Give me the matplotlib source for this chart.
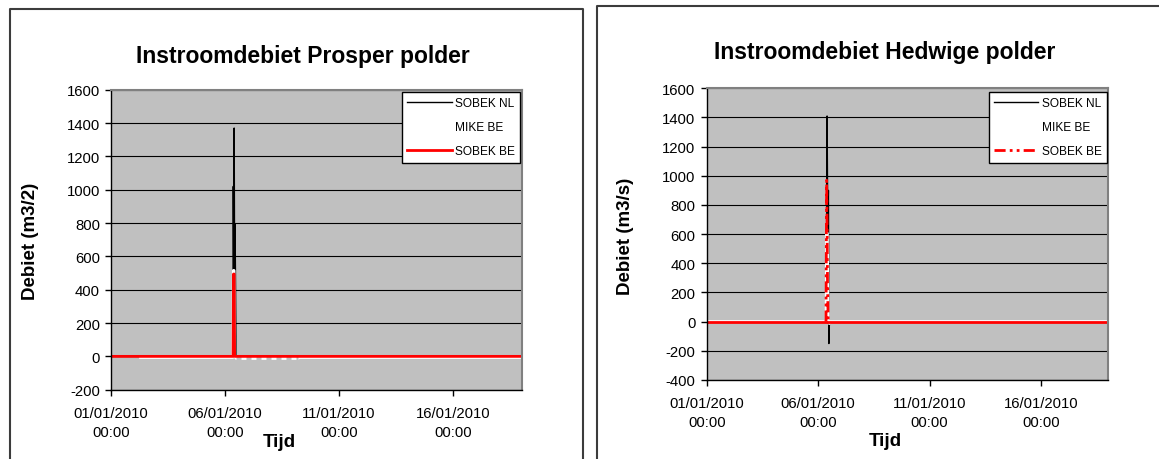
import matplotlib
matplotlib.use("Agg")
import matplotlib.pyplot as plt
from matplotlib.lines import Line2D
import numpy as np

plt.rcParams['font.family'] = ['Liberation Sans', 'DejaVu Sans']

W, H = 1159, 460

# time axis: days since 01/01/2010 00:00
tick_days = [0, 5, 10, 15]
tick_labels = ["01/01/2010\n00:00", "06/01/2010\n00:00", "11/01/2010\n00:00", "16/01/2010\n00:00"]
t_end = 18

# --- Prosper polder ---
prosper_nl_t = [0, 5.34, 5.36, 5.38, 5.40, 5.42, 5.44, 5.46, 5.48, 18]
prosper_nl_q = [0, 0, 1020, 520, 1370, 450, 790, 420, 0, 0]
prosper_mike_t = [1.3, 5.34, 5.37, 5.39, 5.42, 5.5, 8.2, 8.25, 18]
prosper_mike_q = [-6, -6, 515, 515, 0, -12, -12, -6, -6]
prosper_sobekbe_t = [0, 5.35, 5.37, 5.40, 5.42, 18]
prosper_sobekbe_q = [0, 0, 494, 494, 0, 0]

# --- Hedwige polder ---
hedwige_nl_t = [0, 5.37, 5.40, 5.43, 5.46, 5.48, 5.50, 5.52, 18]
hedwige_nl_q = [0, 0, 1410, 650, 900, -150, -30, 0, 0]
hedwige_mike_t = [0, 5.36, 5.39, 5.42, 5.45, 5.50, 5.55, 18]
hedwige_mike_q = [0, 0, 610, 300, 0, -12, 0, 0]
hedwige_sobekbe_t = [0, 5.35, 5.38, 5.40, 5.42, 5.45, 18]
hedwige_sobekbe_q = [0, 0, 970, 640, 250, 0, 0]

series_names = ["SOBEK NL", "MIKE BE", "SOBEK BE"]

fig = plt.figure(figsize=(W / 100, H / 100), dpi=100)


def fx(x):
    return x / W


def fy(y):
    return 1 - y / H


def axes_at(x0, y0, x1, y1):
    return fig.add_axes([fx(x0), fy(y1), fx(x1) - fx(x0), fy(y0) - fy(y1)])


# outer chart frames
frame_kw = dict(color='#3c3c3c', lw=1.5, transform=fig.transFigure, clip_on=False)
fig.add_artist(Line2D([fx(10), fx(10), fx(583), fx(583)], [fy(462), fy(10), fy(10), fy(462)], **frame_kw))
fig.add_artist(Line2D([fx(597), fx(597), fx(1165)], [fy(462), fy(7), fy(7)], **frame_kw))


def style_axes(ax, ylim, yticks):
    ax.set_facecolor('#C0C0C0')
    ax.set_xlim(0, t_end)
    ax.set_ylim(*ylim)
    ax.set_yticks(yticks)
    ax.set_yticklabels([str(v) for v in yticks])
    ax.set_xticks(tick_days)
    ax.set_xticklabels(tick_labels, linespacing=1.5)
    ax.grid(axis='y', color='black', lw=0.8)
    ax.set_axisbelow(True)
    for s in ['top', 'right']:
        ax.spines[s].set_color('#808080')
        ax.spines[s].set_linewidth(1.5)
    for s in ['left', 'bottom']:
        ax.spines[s].set_color('black')
        ax.spines[s].set_linewidth(1.0)
    ax.tick_params(axis='y', length=4, width=1, pad=4, labelsize=10.7)
    ax.tick_params(axis='x', length=4, width=1, pad=7.5, labelsize=10.7)


def add_legend(ax, handles, x0, y0):
    leg = ax.legend(handles=handles, labels=series_names, loc='upper left',
                    bbox_to_anchor=(fx(x0), fy(y0)), bbox_transform=fig.transFigure,
                    borderaxespad=0, fancybox=False, framealpha=1, edgecolor='black',
                    fontsize=8.6, handlelength=3.7, handletextpad=0.3,
                    labelspacing=1.0, borderpad=0.45)
    leg.get_frame().set_linewidth(1.0)
    return leg


# ---------- Prosper polder ----------
ax1 = axes_at(111, 90.7, 521.6, 390.7)
style_axes(ax1, (-200, 1600), list(range(-200, 1601, 200)))
h1, = ax1.plot(prosper_nl_t, prosper_nl_q, color='black', lw=1.0)
mt = np.array(prosper_mike_t)
mq = np.array(prosper_mike_q)
h2, = ax1.plot(mt, mq, color='white', lw=2.2)
seg = (mt >= 5.5) & (mt <= 8.2)
ax1.plot(mt[seg], mq[seg], color='#C0C0C0', lw=2.4, ls=(0, (1.5, 1.5)))
h3, = ax1.plot(prosper_sobekbe_t, prosper_sobekbe_q, color='#FF0000', lw=2.0)
add_legend(ax1, [h1, h2, h3], 402, 93)

fig.text(fx(303), fy(56), "Instroomdebiet Prosper polder", ha='center', va='center',
         fontsize=16.5, fontweight='bold')
fig.text(fx(31), fy(241), "Debiet (m3/2)", ha='center', va='center', rotation=90,
         fontsize=13.5, fontweight='bold')
fig.text(fx(279), fy(443), "Tijd", ha='center', va='center', fontsize=13.5, fontweight='bold')

# ---------- Hedwige polder ----------
ax2 = axes_at(706.7, 89.3, 1108, 381)
style_axes(ax2, (-400, 1600), list(range(-400, 1601, 200)))
g1, = ax2.plot(hedwige_nl_t, hedwige_nl_q, color='black', lw=1.0)
g2, = ax2.plot(hedwige_mike_t, hedwige_mike_q, color='white', lw=2.2)
bt = np.array(hedwige_sobekbe_t)
bq = np.array(hedwige_sobekbe_q)
spike = (bt >= 5.35) & (bt <= 5.45)
dashdot = (0, (4, 1.5, 1, 1.5, 1, 1.5))
ax2.plot(bt[:2], bq[:2], color='#FF0000', lw=2.0)
ax2.plot(bt[spike], bq[spike], color='#FF0000', lw=2.0, ls=dashdot)
ax2.plot(bt[-2:], bq[-2:], color='#FF0000', lw=2.0)
g3 = Line2D([], [], color='#FF0000', lw=2.0, ls=dashdot)
add_legend(ax2, [g1, g2, g3], 988.8, 93)

fig.text(fx(884.6), fy(52), "Instroomdebiet Hedwige polder", ha='center', va='center',
         fontsize=16.5, fontweight='bold')
fig.text(fx(626), fy(236), "Debiet (m3/s)", ha='center', va='center', rotation=90,
         fontsize=13.5, fontweight='bold')
fig.text(fx(885.8), fy(442), "Tijd", ha='center', va='center', fontsize=13.5, fontweight='bold')

fig.savefig("out.png", dpi=100)
